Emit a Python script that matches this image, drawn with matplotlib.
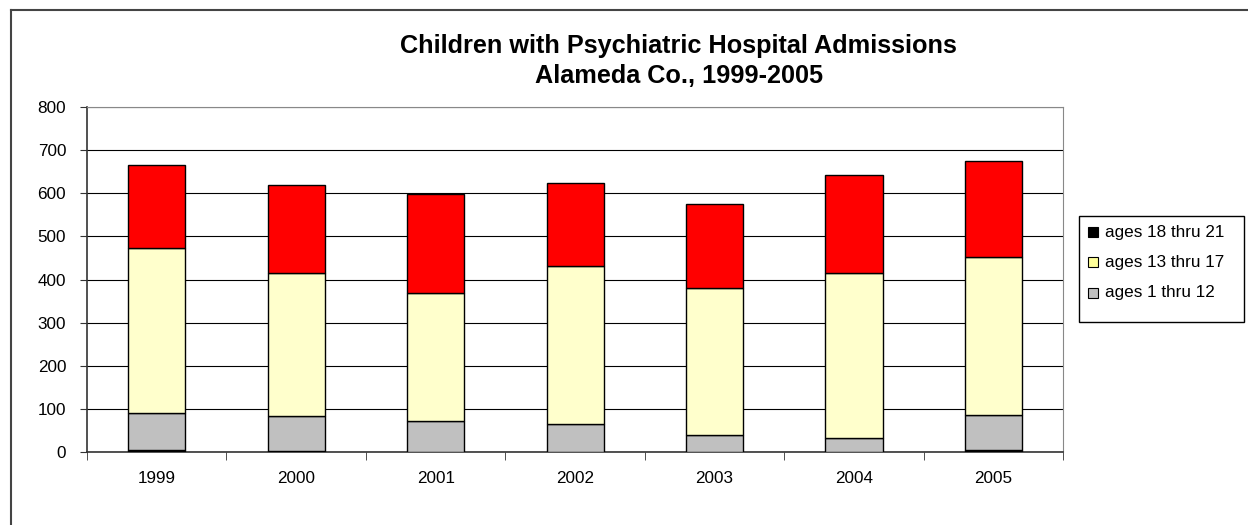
import numpy as np
import matplotlib.pyplot as plt
from matplotlib.patches import Rectangle
from matplotlib.lines import Line2D

years = ["1999", "2000", "2001", "2002", "2003", "2004", "2005"]
ages_18_21 = [4, 3, 0, 0, 0, 0, 4]
ages_1_12 = [86, 80, 72, 65, 39, 32, 82]
ages_13_17 = [383, 332, 297, 366, 341, 383, 366]
top_series = [193, 204, 230, 193, 195, 228, 223]

legend_labels = ["ages 18 thru 21", "ages 13 thru 17", "ages 1 thru 12"]
legend_colors = ["black", "#FFFF99", "#C0C0C0"]

plt.rcParams['font.family'] = ['Liberation Sans', 'DejaVu Sans']

fig = plt.figure(figsize=(12.48, 5.25), dpi=100)
ax = fig.add_axes([0.0697, 0.139, 0.7823, 0.657])

x = np.arange(len(years))
w = 0.41
b1 = np.array(ages_18_21)
b2 = b1 + np.array(ages_1_12)
b3 = b2 + np.array(ages_13_17)

ax.bar(x, ages_18_21, w, color='black', edgecolor='black', lw=1, zorder=3)
ax.bar(x, ages_1_12, w, bottom=b1, color='#C0C0C0', edgecolor='black', lw=1, zorder=3)
ax.bar(x, ages_13_17, w, bottom=b2, color='#FFFFCC', edgecolor='black', lw=1, zorder=3)
ax.bar(x, top_series, w, bottom=b3, color='#FF0000', edgecolor='black', lw=1, zorder=3)

ax.set_xlim(-0.5, len(years) - 0.5)
ax.set_ylim(0, 800)
ax.set_yticks(range(0, 801, 100))
ax.yaxis.grid(True, color='black', lw=0.8, zorder=0)
ax.set_xticks(x)
ax.set_xticklabels(years)
ax.set_xticks(np.arange(-0.5, len(years)), minor=True)
ax.tick_params(axis='x', which='major', length=0, labelsize=12.3, pad=14)
ax.tick_params(axis='x', which='minor', length=6, direction='out', color='#333333')
ax.tick_params(axis='y', length=5, direction='out', labelsize=12.3, pad=10, color='#333333')

for s in ['top', 'right']:
    ax.spines[s].set_color('#888888')
for s in ['left', 'bottom']:
    ax.spines[s].set_color('#333333')
    ax.spines[s].set_linewidth(1.2)

fig.text(0.544, 0.899, "Children with Psychiatric Hospital Admissions", ha='center', va='baseline',
         fontsize=18.2, fontweight='bold')
fig.text(0.544, 0.842, "Alameda Co., 1999-2005", ha='center', va='baseline',
         fontsize=18.2, fontweight='bold')

# legend box drawn by hand (Excel style, extra space at bottom)
fig.patches.append(Rectangle((0.8646, 0.3867), 0.1322, 0.2019, transform=fig.transFigure,
                             fill=True, fc='white', ec='black', lw=1, zorder=5))
row_y = [1 - 232 / 525, 1 - 262 / 525, 1 - 293 / 525]
sq_w, sq_h = 10 / 1248, 10 / 525
for yy, lab, col in zip(row_y, legend_labels, legend_colors):
    fig.patches.append(Rectangle((1088 / 1248, yy - sq_h / 2), sq_w, sq_h, transform=fig.transFigure,
                                 fc=col, ec='black', lw=0.8, zorder=6))
    fig.text(1105 / 1248, yy, lab, ha='left', va='center', fontsize=12.3, zorder=6)

# outer chart frame (only left and top edges are visible)
fig.lines.append(Line2D([11 / 1248, 11 / 1248], [0, 1 - 10 / 525], transform=fig.transFigure,
                        color='#444444', lw=1.5))
fig.lines.append(Line2D([11 / 1248, 1], [1 - 10 / 525, 1 - 10 / 525], transform=fig.transFigure,
                        color='#444444', lw=1.5))

fig.savefig("out.png", dpi=100)
